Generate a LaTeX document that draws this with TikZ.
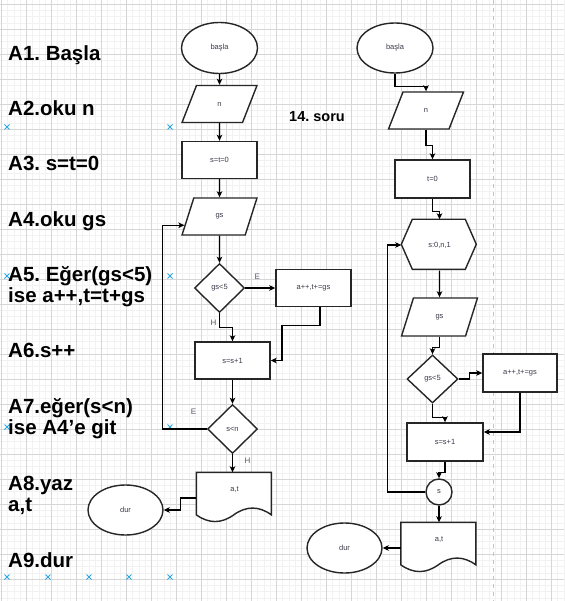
\documentclass[tikz,border=0pt]{standalone}
\usepackage{fontspec}
\setmainfont{Liberation Sans}
\usepackage{tikz}
\usetikzlibrary{arrows.meta, positioning, shapes.geometric, calc}
\definecolor{shapeline}{HTML}{262626}
\definecolor{nodetext}{HTML}{3A3A4A}
\definecolor{labeltext}{HTML}{5A5A6A}
\definecolor{gridminor}{HTML}{F2F2F2}
\definecolor{gridmajor}{HTML}{D6D6D6}
\definecolor{pageline}{HTML}{C4C4C4}
\definecolor{crossblue}{HTML}{2AA7E6}
\pgfdeclarelayer{gridlayer}
\pgfdeclarelayer{shapelayer}
\pgfsetlayers{gridlayer,shapelayer,main}
\frenchspacing
\tikzset{
    shapebox/.style={draw=shapeline, line width=1.4pt, fill=white, font=\fontsize{7.5}{8}\selectfont, text=nodetext, inner sep=0pt},
    procbox/.style={shapebox, rectangle, minimum width=75pt, minimum height=37pt},
    iobox/.style={shapebox, trapezium, trapezium left angle=72, trapezium right angle=108, trapezium stretches=true, minimum width=75pt, minimum height=37pt},
    termbox/.style={shapebox, ellipse, minimum width=76pt, minimum height=51pt},
    decbox/.style={shapebox, diamond, minimum width=50pt, minimum height=49pt},
    loopbox/.style={shapebox, draw=none, fill=none, rectangle, minimum width=75pt, minimum height=50pt},
    joinbox/.style={shapebox, circle, minimum size=26pt},
    docbox/.style={shapebox, draw=none, fill=none, rectangle, minimum width=75pt, minimum height=50pt, text depth=17pt},
    outline/.style={draw=shapeline, line width=1.4pt, fill=white},
    flow/.style={line width=1.2pt, black, -{Stealth[length=6pt, width=5.5pt, inset=1.5pt]}},
    branch/.style={font=\fontsize{8}{9}\selectfont, text=labeltext, inner sep=1pt},
    steptext/.style={font=\fontsize{20.5}{21}\selectfont\bfseries, align=left, anchor=base west, inner sep=0pt},
    waycross/.style={crossblue, line width=0.9pt},
}
% wavy document outline round a docbox node
\newcommand\docoutline[1]{%
    \draw[outline, shift={(#1.north west)}]
        (0,0) -- (75,0) -- (75,42.5) .. controls (62.5,33.5) and (50,33.5) .. (37.5,42.5)
        .. controls (25,51.5) and (12.5,51.5) .. (0,42.5) -- cycle;}
% hexagon outline round a loopbox node
\newcommand\hexoutline[1]{%
    \draw[outline, shift={(#1.north west)}]
        (11,0) -- (64,0) -- (75,25) -- (64,50) -- (11,50) -- (0,25) -- cycle;}

\begin{document}
\begin{tikzpicture}[x=1pt, y=-1pt]
    \useasboundingbox (0,0) rectangle (564,601);

    % editor grid and page border
    \begin{pgfonlayer}{gridlayer}
        \fill[white] (0,0) rectangle (564,601);
        \foreach \gx in {0,...,90} \draw[gridminor, line width=0.9pt] ({1.5+6.25*\gx},0) -- ++(0,601);
        \foreach \gy in {0,...,96} \draw[gridminor, line width=0.9pt] (0,{4.3+6.25*\gy}) -- ++(564,0);
        \foreach \gx in {0,...,22} \draw[gridmajor, line width=0.9pt] ({1.5+25*\gx},0) -- ++(0,601);
        \foreach \gy in {0,...,24} \draw[gridmajor, line width=0.9pt] (0,{4.3+25*\gy}) -- ++(564,0);
        \draw[pageline, line width=1pt, dash pattern=on 4pt off 4pt] (493.5,0) -- ++(0,601);
        \foreach \cx/\cy in {7/127, 170/127, 7/276, 170/276, 7/427, 170/427, 7/577, 48/577, 89/577, 129/577, 170/577}
            \draw[waycross] (\cx-2.5,\cy-2.5) -- ++(5,5) (\cx-2.5,\cy+2.5) -- ++(5,-5);
    \end{pgfonlayer}

    % algorithm steps
    \node[steptext] (stepA1) at (8,61) {A1. Başla};
    \node[steptext] (stepA2) at (8,116) {A2.oku n};
    \node[steptext] (stepA3) at (8,171) {A3. s=t=0};
    \node[steptext] (stepA4) at (8,226) {A4.oku gs};
    \node[steptext] (stepA5) at (8,302) {A5. Eğer(gs<5)\\ise a++,t=t+gs};
    \node[steptext] (stepA6) at (8,357) {A6.s++};
    \node[steptext] (stepA7) at (8,434) {A7.eğer(s<n)\\ise A4’e git};
    \node[steptext] (stepA8) at (8,511) {A8.yaz\\a,t};
    \node[steptext] (stepA9) at (8,567) {A9.dur};
    \node[font=\fontsize{14.5}{16}\selectfont\bfseries, anchor=base west, inner sep=0pt] (title) at (289,122) {14. soru};

    % first flowchart
    \node[termbox] (startL) at (219.5,48) {başla};
    \node[iobox] (nL) at (219.5,104) {n};
    \node[procbox] (initL) at (219.5,160) {s=t=0};
    \node[iobox] (gsL) at (219.5,216.5) {gs};
    \node[decbox] (condL) at (219.5,288) {gs<5};
    \node[procbox] (incL) at (313.5,288) {a++,t+=gs};
    \node[procbox] (sL) at (232.5,360.5) {s=s+1};
    \node[decbox] (loopL) at (232.5,429) {s<n};
    \node[docbox] (docL) at (234.5,498) {a,t};
    \node[termbox, minimum width=75pt, minimum height=50pt] (endL) at (125.5,510) {dur};
    \begin{pgfonlayer}{shapelayer}
        \docoutline{docL}
    \end{pgfonlayer}

    \draw[flow] (startL.south) -- (nL.north);
    \draw[flow] (nL.south) -- (initL.north);
    \draw[flow] (initL.south) -- (gsL.north);
    \draw[flow] (gsL.south) -- (condL.north);
    \draw[flow] (condL.east) -- node[branch, pos=0.4, above=7pt] {E} (incL.west);
    \draw[flow] (condL.south) -- node[branch, pos=0.65, left=1.5pt] {H} ++(0,14) -| (sL.north);
    \draw[flow] ([xshift=6.5pt]incL.south) -- ++(0,18) -- ++(-38,0) |- (sL.east);
    \draw[flow] (sL.south) -- (loopL.north);
    \draw[flow] (loopL.west) -- node[branch, pos=0.3, above=13pt] {E} ++(-44,0) |- (gsL.194);
    \draw[flow] (loopL.south) -- node[branch, pos=0.35, right=10.5pt] {H} (loopL.south |- docL.north);
    \draw[flow] (docL.west) -- ++(-16,0) |- (endL.east);

    % second flowchart
    \node[termbox, minimum height=50pt] (startR) at (395,48) {başla};
    \node[iobox] (nR) at (426,110.5) {n};
    \node[procbox, minimum height=38pt] (initR) at (432.5,179) {t=0};
    \node[loopbox] (forR) at (439.5,245) {s:0,n,1};
    \node[iobox, minimum width=76pt, minimum height=38pt] (gsR) at (439.5,317) {gs};
    \node[decbox, minimum width=51pt, minimum height=48pt] (condR) at (432.5,379) {gs<5};
    \node[procbox, minimum width=74pt, minimum height=38pt] (incR) at (520,373) {a++,t+=gs};
    \node[procbox, minimum width=76pt, minimum height=38pt] (sR) at (445,442) {s=s+1};
    \node[joinbox] (joinR) at (439,492) {s};
    \node[docbox] (docR) at (439,548) {a,t};
    \node[termbox, minimum width=75pt, minimum height=50pt] (endR) at (344.5,548) {dur};
    \begin{pgfonlayer}{shapelayer}
        \hexoutline{forR}
        \docoutline{docR}
    \end{pgfonlayer}

    \draw[flow] (startR.south) -- ++(0,13) -| (nR.north);
    \draw[flow] (nR.south) -- ++(0,16) -| (initR.north);
    \draw[flow] (initR.south) -- ++(0,13) -| (forR.north);
    \draw[flow] (forR.south) -- (gsR.north);
    \draw[flow] (gsR.south) -- ++(0,11) -| (condR.north);
    \draw[flow] (condR.east) -- ++(11,0) |- (incR.west);
    \draw[flow] (condR.south) -- ++(0,14) -| (sR.north);
    \draw[flow] (incR.south) |- ([yshift=10pt]sR.east);
    \draw[flow] (sR.south) -- ++(0,11) -| (joinR.north);
    \draw[flow] (joinR.west) -- ++(-38,0) |- (forR.west);
    \draw[flow] (joinR.south) -- (docR.north);
    \draw[flow] (docR.west) -- (endR.east);
\end{tikzpicture}
\end{document}
